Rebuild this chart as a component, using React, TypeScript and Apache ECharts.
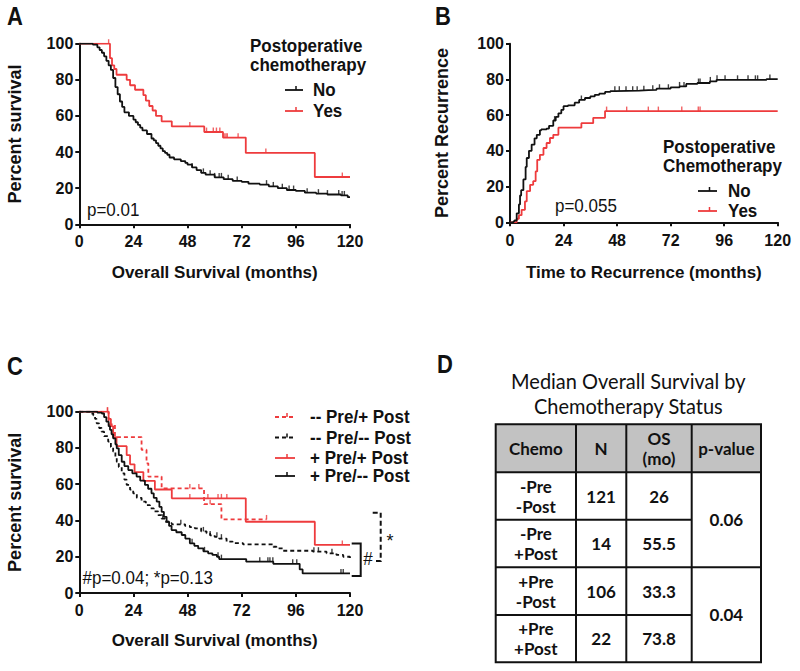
import React, { useEffect, useRef } from "react";
import * as echarts from "echarts";

const RED = "#ee3b3d";
const INK = "#111111";
const SANS = '"Liberation Sans", Arial, Helvetica, sans-serif';
const TABLE_FONT = 'Lato, "Open Sans", sans-serif';

// ---------- axes ----------
const monthMin = 0;
const monthMax = 120;
const monthStep = 24;
const pctMin = 0;
const pctMax = 100;
const pctStep = 20;

const xAxisNames = ["Overall Survival (months)", "Time to Recurrence (months)", "Overall Survival (months)"];
const yAxisNames = ["Percent survival", "Percent Recurrence", "Percent survival"];

// ---------- Panel A: overall survival by postoperative chemo ----------
const aNoCurve = [
  [0, 100], [5, 100], [6, 99.5], [8, 98], [9, 96.5], [10, 95], [11, 93], [12, 90.5], [13, 88], [14, 85.5],
  [15, 81], [16, 76], [17, 72], [18, 68], [19, 65], [20, 62], [22, 60], [24, 58], [25, 56.5], [26, 55],
  [27, 53.5], [28, 52], [30, 50], [32, 47.5], [33, 46.5], [34, 45], [35, 43.5], [36, 42], [37, 40.5],
  [38, 39.5], [39, 38.5], [40, 37], [42, 36], [45, 35], [47, 34], [48, 33], [50, 31.5], [52, 30],
  [54, 28.5], [56, 27.5], [60, 26], [64, 25], [68, 24], [72, 23.5], [75, 22.5], [80, 22], [84, 21],
  [88, 20], [92, 19], [96, 18.5], [100, 17.5], [105, 17], [110, 16.5], [116, 16], [119, 15], [120, 15],
];
const aNoCensorTimes = [50, 55, 58, 60, 62, 63, 66, 70, 83, 86, 90, 93, 95, 101, 106, 110, 115, 116.5, 117.5];

const aYesCurve = [
  [0, 100], [13.6, 92], [14.5, 88], [15.5, 86], [16.5, 82.8], [21, 80], [22.5, 77], [24.7, 74.5],
  [28.4, 71.5], [29.5, 68.5], [31, 65.5], [32.5, 63], [34, 60], [36.5, 57], [41, 54.2], [55.4, 51.1],
  [63.7, 48], [73.8, 39.5], [104.4, 26.2], [120, 26.2],
];
const aYesCensorTimes = [13, 49, 56.4, 59.4, 60.8, 62.3, 64.2, 65, 65.6, 70.4, 82.7, 116.6];

// ---------- Panel B: recurrence ----------
const bNoCurve = [
  [0, 0], [1.5, 0.5], [2, 1], [3, 5], [4, 10], [4.5, 15], [5, 18], [6, 24], [7, 31], [7.5, 36],
  [8.5, 40], [9.7, 43.5], [11, 47], [12, 49], [13.4, 51.5], [14, 52], [16.4, 52.5], [17.5, 54],
  [19.4, 57], [20.5, 59], [21.7, 61], [23, 63], [24, 65], [26, 65.5], [29, 67], [31, 68.5],
  [33.6, 69.6], [36, 70.5], [38, 71.4], [40, 72], [42.6, 73], [45, 73.5], [47, 73.7], [58, 74],
  [62, 74.2], [65.7, 74.8], [72, 75.5], [76, 76.1], [79, 77.5], [84, 78], [89.6, 78.9], [92.6, 79.8],
  [115, 80.2], [120, 80.2],
];
const bNoCensorTimes = [20, 32, 47, 49, 52, 55, 57, 60, 64, 67, 71, 76, 78, 84.5, 85.2, 89.8, 92.8, 96.4, 102, 106.7, 110, 111, 116.5];

const bYesCurve = [
  [0, 0], [2.2, 0], [3, 2], [4, 4], [5.2, 7], [6.7, 11.7], [7.5, 17.4], [9, 21], [10.4, 23],
  [11.5, 28.5], [12.2, 35], [13.4, 37.8], [15, 41.6], [16.4, 44.4], [17.9, 47.2], [19.4, 49],
  [21.7, 53], [32, 55.5], [37.3, 58.5], [42.6, 62.3], [120, 62.3],
];
const bYesCensorTimes = [43.3, 52.3, 62, 66.5, 77, 84.4, 85.2];

// ---------- Panel C: pre/post chemotherapy groups ----------
const cMinusPlusCurve = [
  [0, 100], [13, 93], [15.8, 86], [27.6, 79], [29.8, 71.5], [30.6, 64.2], [36.5, 57.7],
  [55.3, 49], [63, 40.6], [83, 40.6],
];
const cMinusPlusCensorTimes = [12.5, 49, 53, 58, 83];

const cMinusMinusCurve = [
  [0, 100], [5, 99], [6.2, 98], [7, 96], [7.7, 93.6], [8.8, 91], [9.9, 89], [11, 86.5], [12.8, 83.5],
  [14, 80.5], [15, 78], [16, 75], [16.6, 72.4], [17.5, 69.5], [18.8, 66], [20, 62.5], [21, 59.6],
  [22.5, 57], [23.9, 55], [25.5, 52.5], [27.6, 50.4], [29.5, 48.5], [31.3, 46.7], [33, 45], [35, 43],
  [36.5, 41], [38, 39.3], [39.5, 38.5], [41, 37.9], [46.9, 37], [49, 36.3], [51.2, 35.7], [54, 34],
  [56.4, 32.9], [58, 31.8], [60, 31], [62, 30], [65.3, 28.3], [68, 27.5], [72.6, 26.8], [84.4, 26.8],
  [86, 25.5], [87.4, 24.6], [90.3, 23.3], [103.6, 22.8], [109.6, 21.9], [114, 21], [117, 20], [120, 18.5],
];
const cMinusMinusCensorTimes = [37, 45, 55, 58, 61, 63, 104, 106, 112];

const cPlusPlusCurve = [
  [0, 100], [13, 96], [14, 92], [15, 86], [16.5, 81], [21, 76], [22.5, 71], [24.5, 66.7], [28.4, 61.9],
  [33.5, 57.1], [41, 52.2], [73.8, 39.3], [104.4, 26.5], [120, 26.5],
];
const cPlusPlusCensorTimes = [12.5, 49, 57, 61.5, 63, 65.4, 116.6];

const cPlusMinusCurve = [
  [0, 100], [8, 99.5], [10, 99], [11, 97], [12, 94.5], [13, 92], [13.6, 90], [14.3, 87.5], [15, 85.3],
  [16, 82], [16.6, 79.8], [17.5, 76], [18.8, 72.4], [20, 70], [21.7, 67.8], [23.5, 66], [25.4, 64.2],
  [27, 62], [29.1, 59.6], [30.5, 57.5], [32, 55], [33, 52.5], [34.3, 50.4], [35.5, 47.5], [36.5, 44.8],
  [37.5, 42], [38.7, 39.3], [39.8, 37], [40.9, 34.7], [43, 33.5], [45.4, 32], [47, 30], [49, 27.4],
  [51, 26], [52.7, 24.6], [55, 23], [57.1, 21.9], [59, 21], [61, 20], [62, 18.7], [74, 17.3],
  [86, 16.1], [97.7, 13], [99, 10.8], [120, 10.8],
];
const cPlusMinusCensorTimes = [50, 55.5, 61.5, 63, 80, 83.6, 84.5, 85.8, 94.6, 96.4, 116, 117];

// ---------- texts ----------
const panelLetters = ["A", "B", "C", "D"];
const legendATitle = ["Postoperative", "chemotherapy"];
const legendBTitle = ["Postoperative", "Chemotherapy"];
const groupLabels = ["No", "Yes"];
const legendCLabels = ["-- Pre/+ Post", "-- Pre/-- Post", "+ Pre/+ Post", "+ Pre/-- Post"];
const pValueTexts = ["p=0.01", "p=0.055", "#p=0.04; *p=0.13"];

// ---------- Panel D table ----------
const tableTitle = ["Median Overall Survival by", "Chemotherapy Status"];
const tableHeaders = ["Chemo", "N", "OS\n(mo)", "p-value"];
const chemoGroups = ["-Pre\n-Post", "-Pre\n+Post", "+Pre\n-Post", "+Pre\n+Post"];
const groupN = ["121", "14", "106", "22"];
const medianOS = ["26", "55.5", "33.3", "73.8"];
const pairPValues = ["0.06", "0.04"];

function stepValueAt(curve: number[][], t: number) {
  let v = curve[0][1];
  for (const [x, y] of curve) {
    if (x <= t) v = y;
    else break;
  }
  return v;
}
function censorMarks(curve: number[][], times: number[]) {
  return times.map((t) => [t, stepValueAt(curve, t)]);
}

function txt(text: string, x: number, y: number, size: number, opts: any = {}) {
  const align = opts.align || "left";
  return {
    type: "text",
    x,
    y,
    scaleY: opts.scaleY || 1,
    z: 10,
    silent: true,
    style: {
      text,
      x: 0,
      y: 0,
      fill: opts.color || INK,
      fontSize: size,
      fontWeight: opts.weight || "normal",
      fontFamily: opts.family || SANS,
      align,
      textAlign: align,
      verticalAlign: "middle",
      textVerticalAlign: "middle",
      lineHeight: opts.lineHeight,
    },
  };
}

function seg(x1: number, y1: number, x2: number, y2: number, color: string, width: number, dash?: number[]) {
  return {
    type: "line",
    z: 10,
    silent: true,
    shape: { x1, y1, x2, y2 },
    style: { stroke: color, lineWidth: width, lineDash: dash || null },
  };
}

function legendSymbol(x1: number, x2: number, y: number, color: string, dash?: number[]) {
  const mid = (x1 + x2) / 2;
  return [seg(x1, y, x2, y, color, 1.8, dash), seg(mid + 2, y, mid + 2, y - 4, color, 1.5)];
}

const TALL = 1.13;

export default function App() {
  const ref = useRef<HTMLDivElement>(null);

  useEffect(() => {
    document.body.style.margin = "0";
    if (!ref.current) return;
    const chart = echarts.init(ref.current, undefined, { renderer: "svg" });

    const grids = [
      { left: 79.3, top: 43.7, width: 270.7, height: 180.6 },
      { left: 510, top: 43.7, width: 267.7, height: 178.6 },
      { left: 79.3, top: 411.7, width: 270.7, height: 181.3 },
    ];
    const xNameGaps = [40, 42, 39];
    const xLabelMargins = [9, 10, 9];
    const yNameGaps = [55, 59, 55];

    const xAxes = grids.map((_, i) => ({
      type: "value",
      gridIndex: i,
      min: monthMin,
      max: monthMax,
      interval: monthStep,
      name: xAxisNames[i],
      nameLocation: "middle",
      nameGap: xNameGaps[i],
      nameTextStyle: { fontFamily: SANS, fontWeight: "bold", fontSize: 17, color: INK },
      axisLine: { show: true, onZero: false, lineStyle: { color: INK, width: 2 } },
      axisTick: { show: true, length: 4, lineStyle: { color: INK, width: 2 } },
      axisLabel: {
        margin: xLabelMargins[i],
        fontFamily: SANS,
        fontWeight: "bold",
        fontSize: 16,
        color: INK,
        showMinLabel: true,
        showMaxLabel: true,
      },
      splitLine: { show: false },
    }));

    const yAxes = grids.map((_, i) => ({
      type: "value",
      gridIndex: i,
      min: pctMin,
      max: pctMax,
      interval: pctStep,
      name: yAxisNames[i],
      nameLocation: "middle",
      nameGap: yNameGaps[i],
      nameRotate: 90,
      nameTextStyle: { fontFamily: SANS, fontWeight: "bold", fontSize: 18, color: INK },
      axisLine: { show: true, onZero: false, lineStyle: { color: INK, width: 2 } },
      axisTick: { show: true, length: 4, lineStyle: { color: INK, width: 2 } },
      axisLabel: {
        margin: 6,
        fontFamily: SANS,
        fontWeight: "bold",
        fontSize: 16,
        color: INK,
        showMinLabel: true,
        showMaxLabel: true,
      },
      splitLine: { show: false },
    }));

    const km = (name: string, data: number[][], idx: number, color: string, dashed: boolean, z = 2) => ({
      type: "line",
      name,
      xAxisIndex: idx,
      yAxisIndex: idx,
      data,
      step: "end",
      symbol: "none",
      showSymbol: false,
      silent: true,
      z,
      lineStyle: { color, width: 1.8, type: dashed ? [4, 3] : "solid" },
    });
    const cens = (name: string, curve: number[][], times: number[], idx: number, color: string) => ({
      type: "scatter",
      name: name + " censored",
      xAxisIndex: idx,
      yAxisIndex: idx,
      data: censorMarks(curve, times),
      symbol: "rect",
      symbolSize: [1.4, 4.5],
      symbolOffset: [0, -2.2],
      silent: true,
      z: 3,
      itemStyle: { color },
    });

    const series = [
      km("A Yes", aYesCurve, 0, RED, false, 2),
      km("A No", aNoCurve, 0, INK, false, 3),
      cens("A Yes", aYesCurve, aYesCensorTimes, 0, RED),
      cens("A No", aNoCurve, aNoCensorTimes, 0, INK),

      km("B Yes", bYesCurve, 1, RED, false, 2),
      km("B No", bNoCurve, 1, INK, false, 3),
      cens("B Yes", bYesCurve, bYesCensorTimes, 1, RED),
      cens("B No", bNoCurve, bNoCensorTimes, 1, INK),

      km(legendCLabels[0], cMinusPlusCurve, 2, RED, true, 2),
      km(legendCLabels[2], cPlusPlusCurve, 2, RED, false, 2),
      km(legendCLabels[1], cMinusMinusCurve, 2, INK, true, 3),
      km(legendCLabels[3], cPlusMinusCurve, 2, INK, false, 3),
      cens(legendCLabels[0], cMinusPlusCurve, cMinusPlusCensorTimes, 2, RED),
      cens(legendCLabels[2], cPlusPlusCurve, cPlusPlusCensorTimes, 2, RED),
      cens(legendCLabels[1], cMinusMinusCurve, cMinusMinusCensorTimes, 2, INK),
      cens(legendCLabels[3], cPlusMinusCurve, cPlusMinusCensorTimes, 2, INK),
    ];

    const g: any[] = [];
    // panel letters
    const letterPos = [[7, 17], [435, 17], [7, 367], [437, 365]];
    panelLetters.forEach((l, i) =>
      g.push(txt(l, letterPos[i][0], letterPos[i][1], 22, { weight: "bold", scaleY: TALL }))
    );

    const bold = { weight: "bold", scaleY: TALL };
    const reg = { scaleY: TALL };

    // Panel A legend
    g.push(txt(legendATitle[0], 250, 46, 17, bold));
    g.push(txt(legendATitle[1], 250, 65, 17, bold));
    g.push(...legendSymbol(285, 303, 90, INK));
    g.push(txt(groupLabels[0], 313, 90, 17, bold));
    g.push(...legendSymbol(285, 303, 111, RED));
    g.push(txt(groupLabels[1], 313, 111, 17, bold));
    g.push(txt(pValueTexts[0], 87, 210, 17, reg));

    // Panel B legend
    g.push(txt(legendBTitle[0], 663, 147, 17, bold));
    g.push(txt(legendBTitle[1], 663, 166, 17, bold));
    g.push(...legendSymbol(698, 717, 191, INK));
    g.push(txt(groupLabels[0], 728, 191, 17, bold));
    g.push(...legendSymbol(698, 717, 211, RED));
    g.push(txt(groupLabels[1], 728, 211, 17, bold));
    g.push(txt(pValueTexts[1], 555, 206, 17, reg));

    // Panel C legend
    const cRows = [417, 437.5, 458, 476];
    const cStyles = [
      { c: RED, d: [4, 3] },
      { c: INK, d: [4, 3] },
      { c: RED, d: undefined },
      { c: INK, d: undefined },
    ];
    legendCLabels.forEach((l, i) => {
      g.push(...legendSymbol(275, 295, cRows[i], cStyles[i].c, cStyles[i].d));
      g.push(txt(l, 310, cRows[i], 17, bold));
    });
    g.push(txt(pValueTexts[2], 82.5, 578, 17, reg));

    // brackets
    g.push({
      type: "polyline",
      z: 10,
      silent: true,
      shape: { points: [[351.7, 543.5], [360.7, 543.5], [360.7, 576], [351.7, 576]] },
      style: { stroke: INK, lineWidth: 2, fill: "none" },
    });
    g.push(txt("#", 368, 558.5, 17, { align: "center", scaleY: TALL }));
    g.push({
      type: "polyline",
      z: 10,
      silent: true,
      shape: { points: [[372.7, 512.7], [380.7, 512.7], [380.7, 561], [374.5, 561]] },
      style: { stroke: INK, lineWidth: 2, fill: "none", lineDash: [5, 3] },
    });
    g.push(txt("*", 390, 541, 18, { align: "center" }));

    // Panel D table
    g.push(txt(tableTitle[0], 628.3, 380, 20, { align: "center", family: TABLE_FONT, scaleY: 1.1 }));
    g.push(txt(tableTitle[1], 628.3, 405, 20, { align: "center", family: TABLE_FONT, scaleY: 1.1 }));
    const colX = [495.7, 576, 626.3, 691.7, 761];
    const rowY = [424.3, 472.3, 519.7, 567.3, 615, 662.3];
    g.push({
      type: "rect",
      z: 5,
      silent: true,
      shape: { x: colX[0], y: rowY[0], width: colX[4] - colX[0], height: rowY[1] - rowY[0] },
      style: { fill: "#c2c2c2" },
    });
    g.push({
      type: "rect",
      z: 11,
      silent: true,
      shape: { x: colX[0], y: rowY[0], width: colX[4] - colX[0], height: rowY[5] - rowY[0] },
      style: { fill: "none", stroke: INK, lineWidth: 2 },
    });
    [1, 2, 3].forEach((c) => g.push(seg(colX[c], rowY[0], colX[c], rowY[5], INK, 2)));
    g.push(seg(colX[0], rowY[1], colX[4], rowY[1], INK, 2));
    g.push(seg(colX[0], rowY[2], colX[3], rowY[2], INK, 2));
    g.push(seg(colX[0], rowY[3], colX[4], rowY[3], INK, 2));
    g.push(seg(colX[0], rowY[4], colX[3], rowY[4], INK, 2));
    const colC = [0, 1, 2, 3].map((c) => (colX[c] + colX[c + 1]) / 2);
    const headY = (rowY[0] + rowY[1]) / 2;
    const tOpts = { align: "center", weight: "bold", family: TABLE_FONT, lineHeight: 19, scaleY: 1.05 };
    tableHeaders.forEach((h, c) => g.push(txt(h, colC[c], headY, 17, tOpts)));
    chemoGroups.forEach((grp, r) => {
      const cy = (rowY[r + 1] + rowY[r + 2]) / 2;
      g.push(txt(grp, colC[0], cy, 17, tOpts));
      g.push(txt(groupN[r], colC[1], cy, 17, tOpts));
      g.push(txt(medianOS[r], colC[2], cy, 17, tOpts));
    });
    pairPValues.forEach((p, k) => {
      const cy = (rowY[1 + 2 * k] + rowY[3 + 2 * k]) / 2;
      g.push(txt(p, colC[3], cy, 17, tOpts));
    });

    chart.setOption({
      animation: false,
      backgroundColor: "#ffffff",
      grid: grids,
      xAxis: xAxes,
      yAxis: yAxes,
      series,
      graphic: { elements: g },
    });

    return () => chart.dispose();
  }, []);

  return (
    <div
      ref={ref}
      style={{ width: 800, height: 671, position: "absolute", left: 0, top: 0, background: "#fff" }}
    />
  );
}
